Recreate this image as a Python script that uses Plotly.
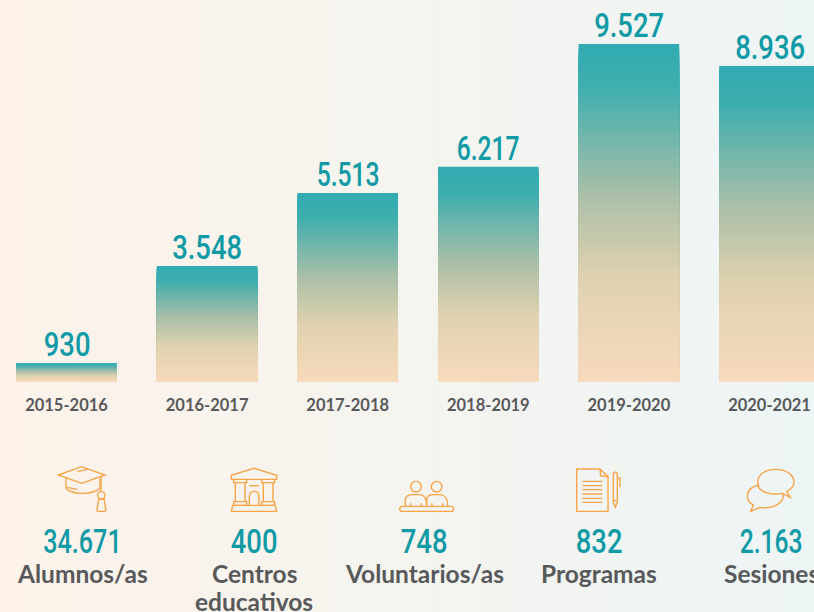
import re
import plotly.graph_objects as go

# ---------- data ----------
courses = ["2015-2016", "2016-2017", "2017-2018", "2018-2019", "2019-2020", "2020-2021"]
alumnos = [930, 3548, 5513, 6217, 9527, 8936]
alumnos_labels = ["930", "3.548", "5.513", "6.217", "9.527", "8.936"]
kpi_values = ["34.671", "400", "748", "832", "2.163"]
kpi_names = ["Alumnos/as", "Centros<br>educativos", "Voluntarios/as", "Programas", "Sesiones"]

# ---------- layout constants ----------
W, H = 814, 612
BASE_PX = 382
Y_MIN = 418
PX_PER_UNIT = 0.0371
STEP = 140.6
FIRST_C = 66.5
BAR_W = 100.6 / STEP
TEAL = "#0f9aa5"
GREY = "#58595b"
ORANGE = "#f7a448"
NUM_FONT = "Roboto, sans-serif"
TXT_FONT = "Lato, sans-serif"

GRAD = [(0.0, (50, 171, 178)), (0.12, (62, 174, 174)), (0.45, (172, 191, 168)),
        (0.70, (224, 210, 176)), (1.0, (246, 218, 187))]


def grad_color(t):
    for (a, ca), (b, cb) in zip(GRAD, GRAD[1:]):
        if t <= b:
            f = (t - a) / (b - a)
            return "rgb(%d,%d,%d)" % tuple(round(x + (y - x) * f) for x, y in zip(ca, cb))
    return "rgb(%d,%d,%d)" % GRAD[-1][1]


fig = go.Figure()

# background gradient
fig.add_trace(go.Heatmap(
    x=[0, 1], y=[0, 1], z=[[0, 1], [0, 1]], zsmooth="best", showscale=False, hoverinfo="skip",
    colorscale=[[0, "#fdf3ea"], [0.5, "#f5f4ef"], [1, "#edf5f5"]], xaxis="x", yaxis="y"))

# bars: overlaid, shrinking from full height, to build a vertical gradient
N = 90
for k in range(N):
    f = 1 - k / N
    fig.add_trace(go.Bar(
        x=courses,
        y=[Y_MIN + (v - Y_MIN) * f for v in alumnos],
        width=BAR_W,
        marker=dict(color=grad_color(k / (N - 1)), line=dict(width=0)),
        hoverinfo="skip",
        xaxis="x2", yaxis="y2", showlegend=False))


# ---------- icons ----------
def P(d):
    nums = iter(range(10 ** 6))
    def rep(m):
        v = float(m.group(0))
        return "%.5f" % (v / W if next(nums) % 2 == 0 else 1 - v / H)
    return re.sub(r"-?\d+\.?\d*", rep, d)


def Z(ox, oy, pts):
    """Zoom crop (3x) coordinates to page pixels."""
    nums = iter(range(10 ** 6))
    def rep(m):
        v = float(m.group(0))
        return "%.2f" % (ox + v / 3 if next(nums) % 2 == 0 else oy + v / 3)
    return re.sub(r"-?\d+\.?\d*", rep, pts)


def circ(cx, cy, r):
    k = 0.5523 * r
    return (f"M{cx-r} {cy} C{cx-r} {cy-k} {cx-k} {cy-r} {cx} {cy-r} C{cx+k} {cy-r} {cx+r} {cy-k} {cx+r} {cy} "
            f"C{cx+r} {cy+k} {cx+k} {cy+r} {cx} {cy+r} C{cx-k} {cy+r} {cx-r} {cy+k} {cx-r} {cy} Z")


L = Z(0, 450, "M175 75 L245 50 L315 75 L245 100 Z") , \
    Z(0, 450, "M198 84 L198 115 C215 135 280 135 300 115 L300 86"), \
    Z(0, 450, "M303 80 L303 126"), \
    Z(0, 450, circ(304, 136, 11)), \
    Z(0, 450, "M296 147 L291 180 L294 184 L315 184 L318 180 L312 147 Z"), \
    Z(0, 450, "M232 64 L262 58"), Z(0, 450, "M200 112 L232 118")
B = (Z(0, 450, "M694 88 L694 76 L762 55 L830 76 L830 88 Z"),
     Z(0, 450, "M701 88 L701 98 L740 98 L740 88"),
     Z(0, 450, "M785 88 L785 98 L824 98 L824 88"),
     Z(0, 450, "M706 98 L706 155 M735 98 L735 155 M790 98 L790 155 M819 98 L819 155"),
     Z(0, 450, "M701 155 L740 155 L740 166 L701 166 Z M785 155 L824 155 L824 166 L785 166 Z"),
     Z(0, 450, "M694 184 L698 166 L826 166 L830 184 Z"),
     Z(0, 450, "M748 166 L748 140 C750 118 775 118 777 140 L777 166"),
     Z(0, 450, "M748 107 L777 107"))
V = (Z(400, 450, circ(48, 110, 16)), Z(400, 450, circ(110, 110, 16)),
     Z(400, 450, "M16 168 L16 148 C18 136 30 134 38 134 L60 134 C72 136 80 142 80 168"),
     Z(400, 450, "M80 168 L80 148 C82 136 90 134 98 134 L122 134 C134 136 143 142 143 168"),
     Z(400, 450, "M6 169 L154 169 C163 170 163 184 154 184 L6 184 C-3 184 -3 170 6 169 Z"),
     Z(400, 450, "M32 160 L32 168 M64 160 L64 168 M96 160 L96 168 M128 160 L128 168"))
D = (Z(400, 450, "M530 57 L600 57 L624 80 L624 184 L530 184 Z"),
     Z(400, 450, "M600 57 L602 78 L624 80"),
     Z(400, 450, "M547 94 L607 94 M547 107 L607 107 M547 119 L607 119 M547 132 L607 132 M547 145 L607 145 M547 157 L607 157"),
     Z(400, 450, "M640 74 C640 64 652 64 652 74 L652 156 L646 172 L640 156 Z"),
     Z(400, 450, "M640 152 L652 152 M652 84 L660 84 L660 112"))
S = (Z(400, 450, "M1073 98 C1073 70 1100 58 1127 58 C1160 58 1182 75 1182 97 C1182 110 1172 118 1160 124 L1171 142 L1146 130 C1125 135 1073 132 1073 98 Z"),
     Z(400, 450, "M1078 105 C1055 108 1042 122 1042 138 C1042 150 1050 160 1060 165 L1052 184 L1080 172 C1110 178 1150 165 1150 135"))

shapes = []
for group in (L, B, V, D, S):
    for d in group:
        shapes.append(dict(type="path", path=P(d), xref="paper", yref="paper", layer="above",
                           line=dict(color=ORANGE, width=1.4), fillcolor="rgba(0,0,0,0)"))

# ---------- text ----------
NUM = dict(family=NUM_FONT, size=33, color=TEAL, weight=500)
ann = []
# value labels above the bars, placed through the bar axes
for c, v, t in zip(courses, alumnos, alumnos_labels):
    ann.append(dict(x=c, y=v, xref="x2", yref="y2", text=t, showarrow=False, xanchor="center",
                    yanchor="bottom", yshift=-3, font=NUM))

kpi_x = [82, 254, 424, 598.5, 771]
for x, v, n in zip(kpi_x, kpi_values, kpi_names):
    ann.append(dict(x=x / W, y=1 - 541 / H, text=v, xref="paper", yref="paper", showarrow=False,
                    xanchor="center", yanchor="middle", font=NUM))
    for line, py in zip(n.split("<br>"), (573, 601)):
        ann.append(dict(x=x / W, y=1 - py / H, text="<b>%s</b>" % line, xref="paper", yref="paper",
                        showarrow=False, xanchor="center", yanchor="middle",
                        font=dict(family=TXT_FONT, size=24.5, color=GREY)))

fig.update_layout(
    width=W, height=H, autosize=False,
    margin=dict(l=0, r=0, t=0, b=0),
    paper_bgcolor="#f6f4ef", plot_bgcolor="rgba(0,0,0,0)",
    barmode="overlay", showlegend=False,
    shapes=shapes, annotations=ann,
    xaxis=dict(domain=[0, 1], range=[0, 1], visible=False, fixedrange=True),
    yaxis=dict(domain=[0, 1], range=[0, 1], visible=False, fixedrange=True),
    xaxis2=dict(domain=[0, 1], anchor="y2", type="category", categoryorder="array", categoryarray=courses,
                range=[-FIRST_C / STEP, (W - FIRST_C) / STEP], showgrid=False, zeroline=False, showline=False,
                ticks="outside", ticklen=8, tickcolor="rgba(0,0,0,0)",
                tickfont=dict(family=TXT_FONT, size=16.5, color=GREY, weight="bold")),
    yaxis2=dict(domain=[1 - BASE_PX / H, 1], anchor="x2", range=[Y_MIN, Y_MIN + BASE_PX / PX_PER_UNIT],
                visible=False),
)

# page margin off; numbers condensed to match the narrow display face (its "1" is a thin stroke)
POST = """
document.documentElement.style.margin='0';document.body.style.margin='0';
function narrow(){document.querySelectorAll('text.annotation-text').forEach(function(t){
  if(t.style.fill.indexOf('15, 154, 165')<0||t.getAttribute('textLength'))return;
  var ones=(t.textContent.match(/1/g)||[]).length;
  t.setAttribute('textLength',(t.getComputedTextLength()*0.83-7*ones).toFixed(1));
  t.setAttribute('lengthAdjust','spacingAndGlyphs');});}
narrow();setTimeout(narrow,50);
"""
fig.write_html("out.html", config=dict(displayModeBar=False), post_script=POST)
